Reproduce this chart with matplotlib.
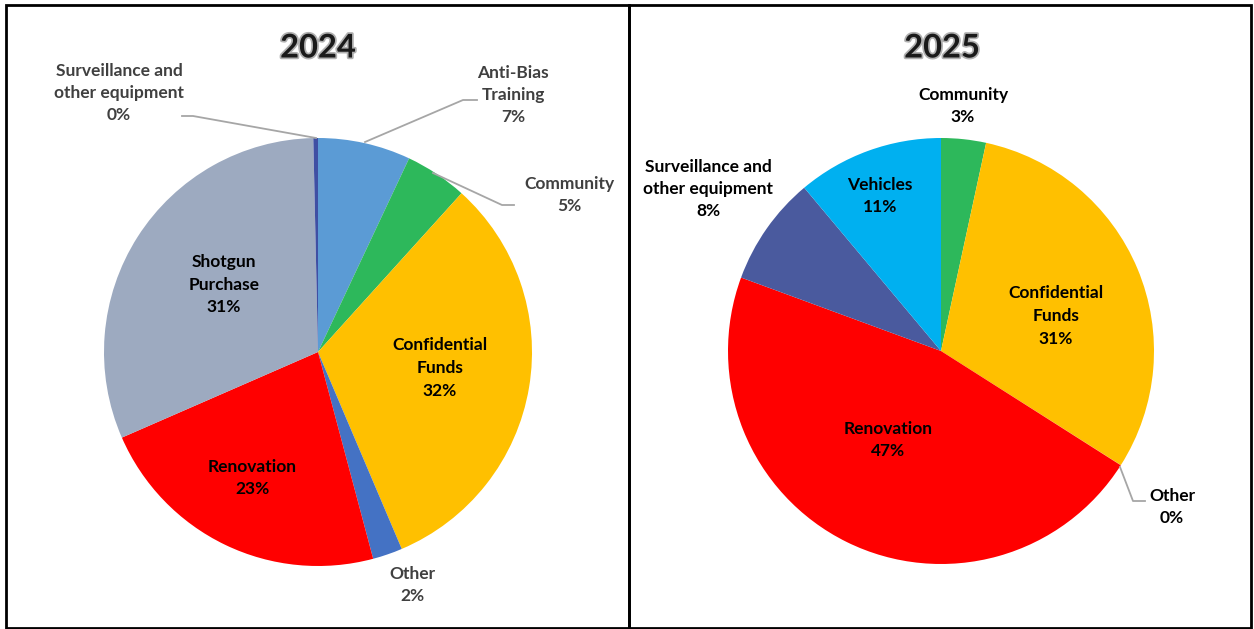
import matplotlib.pyplot as plt
import matplotlib.patheffects as pe
from matplotlib.patches import Rectangle

plt.rcParams['font.family'] = ['Lato', 'DejaVu Sans']

W, H = 1254, 629

# 2024 slices, clockwise from 12 o'clock
cats_2024 = ['Anti-Bias\nTraining', 'Community', 'Confidential\nFunds', 'Other',
             'Renovation', 'Shotgun\nPurchase', 'Surveillance and\nother equipment']
vals_2024 = [7.0, 4.7, 31.9, 2.25, 22.6, 31.2, 0.35]
cols_2024 = ['#5B9BD5', '#2DB85B', '#FFC000', '#4472C4', '#FF0000', '#9DAAC0', '#3F4FA3']

# 2025 slices, clockwise from 12 o'clock
cats_2025 = ['Community', 'Confidential\nFunds', 'Other', 'Renovation',
             'Surveillance and\nother equipment', 'Vehicles']
vals_2025 = [3.4, 30.6, 0.02, 46.6, 8.3, 11.1]
cols_2025 = ['#2DB85B', '#FFC000', '#FFC000', '#FF0000', '#4A5A9E', '#00B0F0']


def Y(y):  # image pixel row -> data y
    return H - y


fig = plt.figure(figsize=(W / 100, H / 100), dpi=100)
ax = fig.add_axes([0, 0, 1, 1])

ax.pie(vals_2024, colors=cols_2024, startangle=90, counterclock=False,
       center=(318, Y(352)), radius=214, wedgeprops=dict(linewidth=0))
ax.pie(vals_2025, colors=cols_2025, startangle=90, counterclock=False,
       center=(941, Y(351)), radius=213, wedgeprops=dict(linewidth=0))
ax.set_xlim(0, W)
ax.set_ylim(0, H)
ax.axis('off')

# panel frames
ax.add_patch(Rectangle((6, Y(628)), 623, 623, fill=False, lw=2, ec='black'))
ax.add_patch(Rectangle((629, Y(628)), 622, 623, fill=False, lw=2, ec='black'))

# titles
for x, t in [(318, '2024'), (942, '2025')]:
    ax.text(x, Y(48), t, ha='center', va='center', fontsize=23.5, fontweight='bold',
            color='#1A1A1A',
            path_effects=[pe.Stroke(linewidth=2.5, foreground='#B0B0B0'), pe.Normal()])


def pct(v, vals):
    return '%.0f%%' % (100 * v / sum(vals))


# label positions (image pixels) and colours
pos_2024 = [(513, 95), (569, 195), (440, 368), (412, 585), (252, 478), (224, 285), (119, 93)]
tc_2024 = ['#404040', '#404040', 'black', '#404040', 'black', 'black', '#404040']
pos_2025 = [(963, 106), (1056, 316), (1172, 507), (888, 440), (708, 189), (880, 196)]

for c, v, (x, y), tc in zip(cats_2024, vals_2024, pos_2024, tc_2024):
    ax.text(x, Y(y), c + '\n' + pct(v, vals_2024), ha='center', va='center',
            fontsize=12.5, fontweight='bold', color=tc, linespacing=1.5)
for c, v, (x, y) in zip(cats_2025, vals_2025, pos_2025):
    ax.text(x, Y(y), c + '\n' + pct(v, vals_2025), ha='center', va='center',
            fontsize=12.5, fontweight='bold', color='black', linespacing=1.5)

# leader lines
leaders = [
    [(182, 116), (193, 116), (316, 138)],
    [(365, 142), (463, 100), (477, 100)],
    [(433, 173), (502, 205), (514, 205)],
    [(1120, 467), (1133, 501), (1145, 501)],
]
for pts in leaders:
    ax.plot([p[0] for p in pts], [Y(p[1]) for p in pts], color='#A6A6A6', lw=1.3)

fig.savefig('out.png', dpi=100)
